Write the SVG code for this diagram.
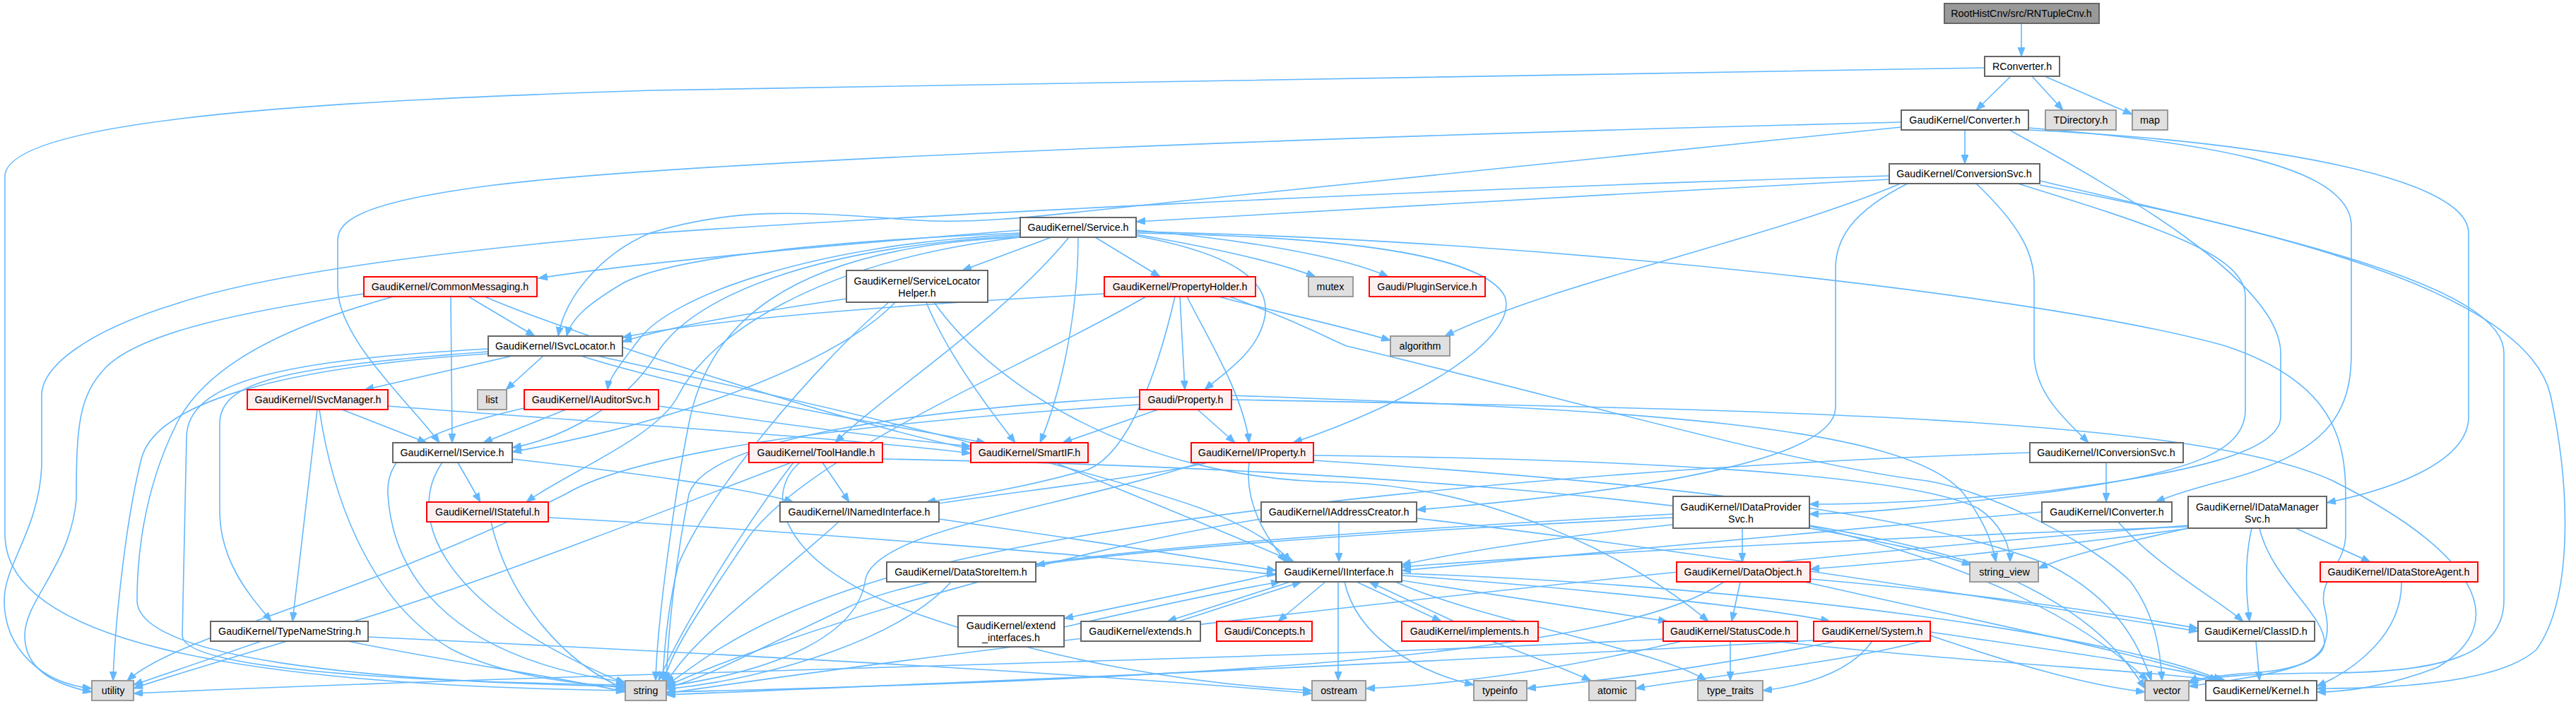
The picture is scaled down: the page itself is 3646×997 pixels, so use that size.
<svg xmlns="http://www.w3.org/2000/svg" width="3646" height="997" viewBox="0 0 3646 997">
<style>
.node rect{fill:#ffffff;stroke:#666666;stroke-width:2}
.red rect{fill:#fff0f0;stroke:#ff0000}
.ext rect{fill:#e0e0e0;stroke:#999999}
.root rect{fill:#999999;stroke:#666666}
text{font-family:"Liberation Sans",Arial,sans-serif;font-size:14.3px;text-anchor:middle;fill:#000000}
#edges path{fill:none;stroke:#63b8ff;stroke-width:1.6;marker-end:url(#arr)}
</style>
<defs>
<marker id="arr" markerWidth="14" markerHeight="10" refX="13" refY="5" orient="auto" markerUnits="userSpaceOnUse"><path d="M0,0 L13,5 L0,10 z" fill="#63b8ff" stroke="#63b8ff" stroke-width="1"/></marker>
</defs>
<rect x="0" y="0" width="3646" height="997" fill="#ffffff"/>
<g id="edges">
<path d="M2861,33 L2861,80"/>
<path d="M2846,108 L2797,156"/>
<path d="M2876,108 L2920,156"/>
<path d="M2894,108 L3018,162"/>
<path d="M2809,96 C2000,105 1200,118 920,128 C500,142 7,165 7,250 L7,757 C7,900 300,970 885,978"/>
<path d="M2781,184 L2781,232"/>
<path d="M2691,173 C2000,190 1000,225 700,262 C520,285 478,310 478,340 L478,407 C478,480 580,570 622,627"/>
<path d="M2691,180 C2300,220 1900,262 1700,282 C1500,302 1400,318 1300,312 C1150,302 1050,290 920,330 C850,360 800,420 790,476"/>
<path d="M2844,184 C3000,270 3228,400 3228,500 L3228,590 C3228,640 3100,670 2900,695 C2750,710 2650,714 2561,714"/>
<path d="M2871,181 C3100,200 3328,230 3328,320 L3328,500 C3328,580 3300,640 3150,680 C3100,693 3070,703 3051,711"/>
<path d="M2871,184 C3200,200 3494,250 3494,330 L3494,590 C3494,650 3400,690 3293,712"/>
<path d="M2674,254 C2300,275 1800,300 1608,314"/>
<path d="M2674,249 C2000,268 1200,310 900,332 C700,350 400,380 250,430 C120,470 59,520 59,560 L59,660 C55,750 6,800 6,850 C6,920 60,968 130,975"/>
<path d="M2690,260 C2500,340 2200,400 2045,476"/>
<path d="M2700,260 C2620,300 2598,340 2598,380 L2598,577 C2598,640 2400,690 2005,722"/>
<path d="M2797,260 C2860,320 2879,360 2879,400 L2879,500 C2879,560 2930,600 2956,627"/>
<path d="M2856,260 C3050,320 3178,360 3178,420 L3178,580 C3178,640 3100,670 2900,697 C2750,715 2650,727 2561,728"/>
<path d="M2887,256 C3200,330 3544,400 3544,500 L3544,850 C3544,930 3450,952 3300,953 C3180,954 3120,958 3098,968"/>
<path d="M2887,262 C3300,340 3580,430 3610,560 C3640,700 3640,850 3590,920 C3540,965 3400,975 3279,975"/>
<path d="M1444,326 C1200,345 900,372 762,394"/>
<path d="M1488,336 L1362,383"/>
<path d="M1550,336 L1642,392"/>
<path d="M1608,332 C1700,348 1800,368 1862,392"/>
<path d="M1608,326 C1750,338 1900,362 1965,392"/>
<path d="M1444,330 C1200,340 950,362 880,402 C830,432 808,452 802,476"/>
<path d="M1444,332 C1150,345 950,420 905,480 C875,520 862,535 860,552"/>
<path d="M1444,334 C1150,350 980,420 930,500 C890,570 800,620 725,634"/>
<path d="M1444,336 C1150,370 1000,480 960,560 C930,620 800,670 745,711"/>
<path d="M1526,336 C1526,450 1500,560 1472,627"/>
<path d="M1513,336 C1420,450 1250,560 1182,627"/>
<path d="M1608,334 C1750,360 1800,400 1790,450 C1780,500 1730,530 1705,552"/>
<path d="M1608,330 C1900,335 2100,360 2130,420 C2150,480 2000,570 1830,627"/>
<path d="M1444,336 C1100,350 1000,470 975,600 C955,700 930,880 928,964"/>
<path d="M1608,328 C2200,340 2900,420 3150,490 C3300,540 3320,620 3320,700 L3320,757 C3320,800 3280,820 3290,860 C3305,920 3280,945 3200,952 C3140,956 3110,960 3098,966"/>
<path d="M663,420 L757,476"/>
<path d="M686,420 C800,470 1200,600 1374,636"/>
<path d="M638,420 L640,627"/>
<path d="M515,416 C350,440 200,470 150,520 C112,560 108,600 108,707 C100,800 35,850 35,900 C35,950 80,970 130,980"/>
<path d="M557,420 C450,450 300,500 250,600 C200,700 194,800 194,850 C194,930 500,965 885,972"/>
<path d="M1198,423 C1050,445 950,462 881,484"/>
<path d="M1311,428 C1340,500 1400,580 1437,627"/>
<path d="M1267,428 C1200,500 1000,590 725,640"/>
<path d="M1258,428 C1150,520 1000,700 960,800 C945,860 940,920 938,964"/>
<path d="M1322,428 C1400,540 1600,680 1900,683 C2100,690 2300,780 2418,880"/>
<path d="M1670,420 L1677,552"/>
<path d="M1680,420 C1710,480 1760,560 1768,627"/>
<path d="M1663,420 C1640,520 1600,640 1540,665 C1450,690 1380,702 1311,711"/>
<path d="M1724,420 C1800,440 1900,462 1968,482"/>
<path d="M1563,416 C1300,430 1000,452 881,478"/>
<path d="M1622,420 C1450,520 1150,640 1060,760 C1000,850 950,920 940,964"/>
<path d="M1740,420 C1850,460 1880,480 1906,490 C2200,560 2550,660 2720,680 C2800,690 2950,760 3015,823 C3050,870 3058,920 3060,964"/>
<path d="M1695,580 L1748,627"/>
<path d="M1639,580 L1504,627"/>
<path d="M1613,562 C1300,580 1000,620 975,700 C955,800 945,900 943,968"/>
<path d="M1613,573 C1200,600 900,640 800,700 C500,850 250,900 180,964"/>
<path d="M1743,560 C2300,580 2700,600 2780,700 C2810,740 2820,770 2825,796"/>
<path d="M1743,566 C2500,580 3100,590 3300,680 C3500,780 3560,880 3450,945 C3380,972 3320,980 3279,980"/>
<path d="M1710,655 C1600,680 1400,700 1311,716"/>
<path d="M1768,655 C1760,720 1800,770 1820,796"/>
<path d="M1700,655 C1500,720 1240,750 1225,820 C1215,900 1100,950 943,972"/>
<path d="M1859,645 C2300,650 2700,670 2800,720 C2830,740 2845,770 2845,796"/>
<path d="M1859,652 C2300,680 2700,720 2900,800 C3000,850 3030,920 3045,964"/>
<path d="M1164,655 L1202,711"/>
<path d="M1123,655 C1050,750 970,880 932,964"/>
<path d="M1120,655 C1000,700 700,820 500,880 C300,940 230,960 189,975"/>
<path d="M1132,655 C1080,700 1100,800 1300,870 C1500,940 1700,970 1857,978"/>
<path d="M1249,650 C1800,660 2500,700 2800,800 C2950,860 3000,920 3036,975"/>
<path d="M1493,655 C1600,700 1750,760 1832,796"/>
<path d="M1329,735 C1500,760 1700,790 1806,808"/>
<path d="M1187,739 C1100,820 980,900 943,968"/>
<path d="M648,655 L680,711"/>
<path d="M626,655 C580,720 600,850 885,968"/>
<path d="M725,650 C900,670 1050,690 1123,711"/>
<path d="M776,733 C1100,750 1600,790 1806,814"/>
<path d="M695,739 C720,850 800,940 885,976"/>
<path d="M725,504 L516,552"/>
<path d="M769,504 L716,552"/>
<path d="M691,498 C400,520 311,540 311,600 L311,723 C311,800 360,850 384,880"/>
<path d="M691,494 C400,510 264,540 264,620 L258,900 C258,950 600,966 885,970"/>
<path d="M691,501 C400,520 220,570 200,650 C175,750 162,900 160,964"/>
<path d="M822,504 C1000,560 1300,610 1395,627"/>
<path d="M845,504 C1100,560 1500,650 1700,720 C1780,750 1815,780 1826,796"/>
<path d="M484,580 L604,627"/>
<path d="M449,580 L414,880"/>
<path d="M452,580 C470,700 520,850 640,920 C720,960 820,968 885,974"/>
<path d="M549,575 C800,595 1200,620 1374,642"/>
<path d="M801,580 L684,627"/>
<path d="M742,578 C600,610 546,640 549,700 C555,800 620,930 885,966"/>
<path d="M932,575 C1100,600 1250,620 1374,632"/>
<path d="M370,908 L189,970"/>
<path d="M492,908 C650,940 800,960 885,980"/>
<path d="M521,902 C900,920 1500,950 1857,982"/>
<path d="M1346,824 C1280,900 1100,960 943,976"/>
<path d="M1876,824 L1809,880"/>
<path d="M1894,824 L1894,964"/>
<path d="M1903,824 C1920,900 2000,950 2086,970"/>
<path d="M1920,824 L2040,880"/>
<path d="M2058,880 L1938,824"/>
<path d="M1975,824 C2100,880 2350,920 2415,964"/>
<path d="M1984,822 L2360,880"/>
<path d="M1984,815 C2200,830 2500,860 2590,880"/>
<path d="M1984,812 C2500,830 3000,900 3145,964"/>
<path d="M1826,824 L1652,880"/>
<path d="M1668,880 L1842,824"/>
<path d="M1806,812 C1700,836 1580,860 1506,876"/>
<path d="M1506,888 C1620,862 1740,836 1812,824"/>
<path d="M2381,908 C2200,950 2050,970 1933,975"/>
<path d="M2449,908 L2449,964"/>
<path d="M2354,905 C1800,935 900,950 189,982"/>
<path d="M2510,908 C2800,940 3050,950 3140,964"/>
<path d="M2598,908 C2400,950 2250,965 2161,975"/>
<path d="M2580,906 C2000,940 1400,965 943,984"/>
<path d="M2732,900 C2850,940 2950,970 3036,980"/>
<path d="M2732,895 C2900,920 3050,940 3150,964"/>
<path d="M2720,908 C2600,940 2400,960 2315,975"/>
<path d="M2650,908 C2620,950 2560,970 2495,978"/>
<path d="M2463,824 L2451,880"/>
<path d="M2440,824 C2300,920 1800,960 943,980"/>
<path d="M2562,820 C2800,840 3000,870 3111,890"/>
<path d="M2554,824 C2800,880 3050,930 3140,964"/>
<path d="M2466,748 L2466,796"/>
<path d="M2368,743 C2200,760 2050,785 1984,800"/>
<path d="M2368,733 C2000,750 1650,775 1466,800"/>
<path d="M2368,728 C1800,760 1350,790 1200,860 C1050,930 1000,960 943,974"/>
<path d="M2561,748 C2650,765 2730,780 2790,800"/>
<path d="M2561,745 C2800,800 2950,880 3040,964"/>
<path d="M1895,739 L1895,796"/>
<path d="M2005,734 C2400,780 2900,860 3111,894"/>
<path d="M1785,735 C1500,780 1100,900 943,972"/>
<path d="M2981,655 L2981,711"/>
<path d="M2873,641 C2300,660 1600,720 1250,820 C1050,880 990,940 943,970"/>
<path d="M2998,739 C3050,800 3140,850 3175,880"/>
<path d="M2890,725 C2600,750 2200,790 1984,808"/>
<path d="M3249,748 L3355,796"/>
<path d="M3187,748 C3175,800 3180,850 3184,880"/>
<path d="M3097,748 C3000,770 2930,785 2885,805"/>
<path d="M3198,748 C3215,820 3290,870 3290,910 C3290,945 3200,958 3098,972"/>
<path d="M3097,746 C2700,760 2200,785 1984,803"/>
<path d="M3100,748 C2900,775 2700,795 2562,806"/>
<path d="M3097,744 C2500,790 1500,900 943,982"/>
<path d="M3399,824 C3400,900 3330,950 3279,972"/>
<path d="M3193,908 L3198,964"/>
<path d="M2111,908 C2170,930 2220,950 2252,964"/>
</g>
<g id="n1" class="node root"><rect x="2752" y="5" width="219" height="28"/><text x="2861" y="24">RootHistCnv/src/RNTupleCnv.h</text></g>
<g id="n2" class="node"><rect x="2809" y="80" width="106" height="28"/><text x="2862" y="99">RConverter.h</text></g>
<g id="n3" class="node"><rect x="2691" y="156" width="180" height="28"/><text x="2781" y="175">GaudiKernel/Converter.h</text></g>
<g id="n4" class="node ext"><rect x="2895" y="156" width="100" height="28"/><text x="2945" y="175">TDirectory.h</text></g>
<g id="n5" class="node ext"><rect x="3018" y="156" width="50" height="28"/><text x="3043" y="175">map</text></g>
<g id="n6" class="node"><rect x="2674" y="232" width="213" height="28"/><text x="2780" y="251">GaudiKernel/ConversionSvc.h</text></g>
<g id="n7" class="node"><rect x="1444" y="308" width="164" height="28"/><text x="1526" y="327">GaudiKernel/Service.h</text></g>
<g id="n8" class="node red"><rect x="515" y="392" width="245" height="28"/><text x="637" y="411">GaudiKernel/CommonMessaging.h</text></g>
<g id="n9" class="node"><rect x="1198" y="383" width="200" height="45"/><text x="1298" y="403">GaudiKernel/ServiceLocator</text><text x="1298" y="420">Helper.h</text></g>
<g id="n10" class="node red"><rect x="1563" y="392" width="214" height="28"/><text x="1670" y="411">GaudiKernel/PropertyHolder.h</text></g>
<g id="n11" class="node ext"><rect x="1852" y="392" width="63" height="28"/><text x="1883" y="411">mutex</text></g>
<g id="n12" class="node red"><rect x="1938" y="392" width="164" height="28"/><text x="2020" y="411">Gaudi/PluginService.h</text></g>
<g id="n13" class="node ext"><rect x="1968" y="476" width="84" height="28"/><text x="2010" y="495">algorithm</text></g>
<g id="n14" class="node"><rect x="691" y="476" width="190" height="28"/><text x="786" y="495">GaudiKernel/ISvcLocator.h</text></g>
<g id="n15" class="node ext"><rect x="676" y="552" width="41" height="28"/><text x="696" y="571">list</text></g>
<g id="n16" class="node red"><rect x="350" y="552" width="199" height="28"/><text x="450" y="571">GaudiKernel/ISvcManager.h</text></g>
<g id="n17" class="node red"><rect x="742" y="552" width="190" height="28"/><text x="837" y="571">GaudiKernel/IAuditorSvc.h</text></g>
<g id="n18" class="node"><rect x="556" y="627" width="169" height="28"/><text x="640" y="646">GaudiKernel/IService.h</text></g>
<g id="n19" class="node red"><rect x="604" y="711" width="172" height="28"/><text x="690" y="730">GaudiKernel/IStateful.h</text></g>
<g id="n20" class="node"><rect x="298" y="880" width="223" height="28"/><text x="410" y="899">GaudiKernel/TypeNameString.h</text></g>
<g id="n21" class="node ext"><rect x="130" y="964" width="59" height="28"/><text x="160" y="983">utility</text></g>
<g id="n22" class="node ext"><rect x="885" y="964" width="58" height="28"/><text x="914" y="983">string</text></g>
<g id="n23" class="node red"><rect x="1060" y="627" width="189" height="28"/><text x="1155" y="646">GaudiKernel/ToolHandle.h</text></g>
<g id="n24" class="node red"><rect x="1374" y="627" width="166" height="28"/><text x="1457" y="646">GaudiKernel/SmartIF.h</text></g>
<g id="n25" class="node red"><rect x="1613" y="552" width="130" height="28"/><text x="1678" y="571">Gaudi/Property.h</text></g>
<g id="n26" class="node red"><rect x="1686" y="627" width="173" height="28"/><text x="1772" y="646">GaudiKernel/IProperty.h</text></g>
<g id="n27" class="node"><rect x="1104" y="711" width="225" height="28"/><text x="1216" y="730">GaudiKernel/INamedInterface.h</text></g>
<g id="n28" class="node"><rect x="1255" y="796" width="211" height="28"/><text x="1360" y="815">GaudiKernel/DataStoreItem.h</text></g>
<g id="n29" class="node"><rect x="1356" y="872" width="150" height="44"/><text x="1431" y="891">GaudiKernel/extend</text><text x="1431" y="908">_interfaces.h</text></g>
<g id="n30" class="node"><rect x="1530" y="880" width="169" height="28"/><text x="1614" y="899">GaudiKernel/extends.h</text></g>
<g id="n31" class="node red"><rect x="1722" y="880" width="135" height="28"/><text x="1790" y="899">Gaudi/Concepts.h</text></g>
<g id="n32" class="node"><rect x="1806" y="796" width="178" height="28"/><text x="1895" y="815">GaudiKernel/IInterface.h</text></g>
<g id="n33" class="node red"><rect x="1984" y="880" width="193" height="28"/><text x="2080" y="899">GaudiKernel/implements.h</text></g>
<g id="n34" class="node"><rect x="1785" y="711" width="220" height="28"/><text x="1895" y="730">GaudiKernel/IAddressCreator.h</text></g>
<g id="n35" class="node"><rect x="2368" y="703" width="193" height="45"/><text x="2464" y="723">GaudiKernel/IDataProvider</text><text x="2464" y="740">Svc.h</text></g>
<g id="n36" class="node red"><rect x="2373" y="796" width="189" height="28"/><text x="2467" y="815">GaudiKernel/DataObject.h</text></g>
<g id="n37" class="node red"><rect x="2354" y="880" width="190" height="28"/><text x="2449" y="899">GaudiKernel/StatusCode.h</text></g>
<g id="n38" class="node red"><rect x="2567" y="880" width="165" height="28"/><text x="2650" y="899">GaudiKernel/System.h</text></g>
<g id="n39" class="node ext"><rect x="1857" y="964" width="76" height="28"/><text x="1895" y="983">ostream</text></g>
<g id="n40" class="node ext"><rect x="2086" y="964" width="75" height="28"/><text x="2123" y="983">typeinfo</text></g>
<g id="n41" class="node ext"><rect x="2249" y="964" width="66" height="28"/><text x="2282" y="983">atomic</text></g>
<g id="n42" class="node ext"><rect x="2403" y="964" width="92" height="28"/><text x="2449" y="983">type_traits</text></g>
<g id="n43" class="node"><rect x="2873" y="627" width="217" height="28"/><text x="2981" y="646">GaudiKernel/IConversionSvc.h</text></g>
<g id="n44" class="node"><rect x="2890" y="711" width="184" height="28"/><text x="2982" y="730">GaudiKernel/IConverter.h</text></g>
<g id="n45" class="node"><rect x="3097" y="703" width="196" height="45"/><text x="3195" y="723">GaudiKernel/IDataManager</text><text x="3195" y="740">Svc.h</text></g>
<g id="n46" class="node ext"><rect x="2788" y="796" width="97" height="28"/><text x="2837" y="815">string_view</text></g>
<g id="n47" class="node red"><rect x="3284" y="796" width="223" height="28"/><text x="3395" y="815">GaudiKernel/IDataStoreAgent.h</text></g>
<g id="n48" class="node"><rect x="3111" y="880" width="165" height="28"/><text x="3193" y="899">GaudiKernel/ClassID.h</text></g>
<g id="n49" class="node ext"><rect x="3036" y="964" width="62" height="28"/><text x="3067" y="983">vector</text></g>
<g id="n50" class="node"><rect x="3122" y="964" width="157" height="28"/><text x="3200" y="983">GaudiKernel/Kernel.h</text></g>
</svg>
